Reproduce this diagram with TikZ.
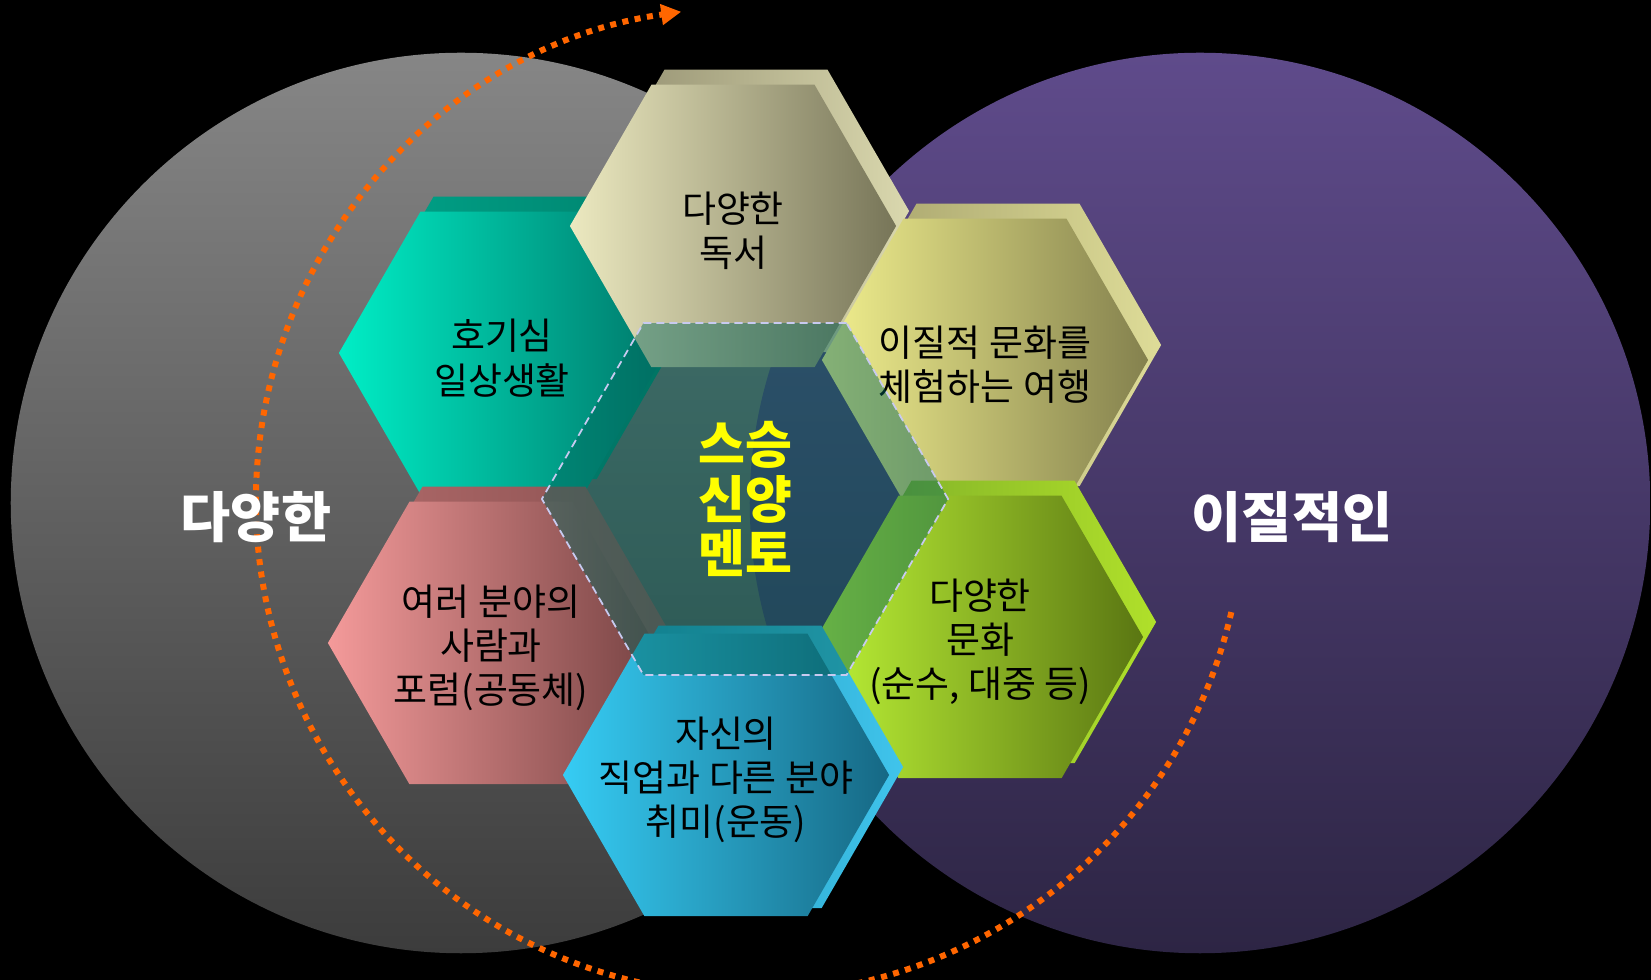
\documentclass[tikz,border=0pt]{standalone}
\usepackage{fontspec}
\setmainfont{Noto Sans CJK KR}
\usetikzlibrary{calc, shapes.geometric, arrows.meta, positioning}

\definecolor{graytop}{HTML}{868686}
\definecolor{graybot}{HTML}{3C3C3C}
\definecolor{purptop}{HTML}{5F4B8B}
\definecolor{purpbot}{HTML}{2D2544}
\definecolor{flowc}{HTML}{FF6600}
\definecolor{wellc}{HTML}{00645A}
\definecolor{welldash}{HTML}{C8CAF0}
\definecolor{corec}{HTML}{FFFF00}
% cell faces and rims
\definecolor{faceTa}{HTML}{ECE9C0}\definecolor{faceTb}{HTML}{777558}
\definecolor{rimTa}{HTML}{8E8A6C}\definecolor{rimTb}{HTML}{DAD8AE}
\definecolor{faceLa}{HTML}{00EEC6}\definecolor{faceLb}{HTML}{00786A}
\definecolor{rimLa}{HTML}{00A58A}\definecolor{rimLb}{HTML}{00806C}
\definecolor{faceRa}{HTML}{F2F08E}\definecolor{faceRb}{HTML}{84814E}
\definecolor{rimRa}{HTML}{A4A06A}\definecolor{rimRb}{HTML}{DEDC98}
\definecolor{facePa}{HTML}{F49A9A}\definecolor{facePb}{HTML}{784444}
\definecolor{rimPa}{HTML}{B06A6A}\definecolor{rimPb}{HTML}{8A5050}
\definecolor{faceGa}{HTML}{BCF236}\definecolor{faceGb}{HTML}{5A7612}
\definecolor{rimGa}{HTML}{7AAA28}\definecolor{rimGb}{HTML}{B0E02A}
\definecolor{faceBa}{HTML}{36CCF4}\definecolor{faceBb}{HTML}{166884}
\definecolor{rimBa}{HTML}{1A90B0}\definecolor{rimBb}{HTML}{40C4EC}

\tikzset{
  hexcell/.style 2 args={regular polygon, regular polygon sides=6, minimum size=3.26cm,
    inner sep=0pt, outer sep=0pt, left color=#1, right color=#2},
  hextext/.style={align=center, text=black, yshift=-0.05cm, font=\fontsize{10.5}{12.6}\selectfont},
  sidetext/.style={text=white, font=\fontsize{15.5}{18}\selectfont\bfseries},
  flow/.style={flowc, line width=0.06cm, dash pattern=on 0.06cm off 0.065cm,
    -{Triangle[length=0.2cm, width=0.2cm]}},
}

\begin{document}
\begin{tikzpicture}[x=0.01cm, y=-0.01cm]
  \fill[black] (0,0) rectangle (1651,980);
  \useasboundingbox (0,0) rectangle (1651,980);

  % the two circles
  \node[circle, minimum size=9cm, inner sep=0pt, top color=graytop, bottom color=graybot] (left) at (461,503) {};
  \node[circle, minimum size=9cm, inner sep=0pt, top color=purptop, bottom color=purpbot] (right) at (1200,503) {};

  % orange loop
  \coordinate (loop) at (750,501);
  \coordinate (loopS) at ($(loop)+(13:494)$);
  \draw[flow] (loopS) arc[start angle=13, end angle=262, radius=494];

  % cell centres
  \coordinate (cL) at (502,353);
  \coordinate (cT) at (733,226);
  \coordinate (cR) at (985,360);
  \coordinate (cP) at (491,643);
  \coordinate (cG) at (980,637);
  \coordinate (cB) at (726,775);

  % cells: rim first, then the face
  \node[hexcell={rimLa}{rimLb}] (rL) at ($(cL)+(13,-15)$) {};
  \node[hexcell={faceLa}{faceLb}] (hL) at (cL) {};
  \node[hextext] (tL) at (hL) {호기심\\일상생활};

  \node[hexcell={rimTa}{rimTb}] (rT) at ($(cT)+(13,-15)$) {};
  \node[hexcell={faceTa}{faceTb}] (hT) at (cT) {};
  \node[hextext] (tT) at (hT) {다양한\\독서};

  \node[hexcell={rimRa}{rimRb}] (rR) at ($(cR)+(13,-15)$) {};
  \node[hexcell={faceRa}{faceRb}] (hR) at (cR) {};
  \node[hextext] (tR) at (hR) {이질적 문화를\\체험하는 여행};

  \node[hexcell={rimPa}{rimPb}] (rP) at ($(cP)+(13,-15)$) {};
  \node[hexcell={facePa}{facePb}] (hP) at (cP) {};
  \node[hextext] (tP) at (hP) {여러 분야의\\사람과\\포럼(공동체)};

  \node[hexcell={rimGa}{rimGb}] (rG) at ($(cG)+(13,-15)$) {};
  \node[hexcell={faceGa}{faceGb}] (hG) at (cG) {};
  \node[hextext] (tG) at (hG) {다양한\\문화\\(순수, 대중 등)};

  \node[hexcell={rimBa}{rimBb}] (rB) at ($(cB)+(14,-8)$) {};
  \node[hexcell={faceBa}{faceBb}] (hB) at (cB) {};
  \node[hextext] (tB) at (hB) {자신의\\직업과 다른 분야\\취미(운동)};

  % the well in the middle
  \node[regular polygon, regular polygon sides=6, minimum size=4.06cm, inner sep=0pt,
    fill=wellc, fill opacity=0.45, draw=welldash, line width=0.5pt,
    dash pattern=on 0.08cm off 0.05cm] (well) at (745,499) {};
  \node[text=corec, align=center, font=\fontsize{14.5}{15.6}\selectfont\bfseries] (core) at (well) {스승\\신양\\멘토};

  % circle labels
  \node[sidetext] (divL) at (256,517) {다양한};
  \node[sidetext] (difR) at (1292,517) {이질적인};
\end{tikzpicture}
\end{document}
